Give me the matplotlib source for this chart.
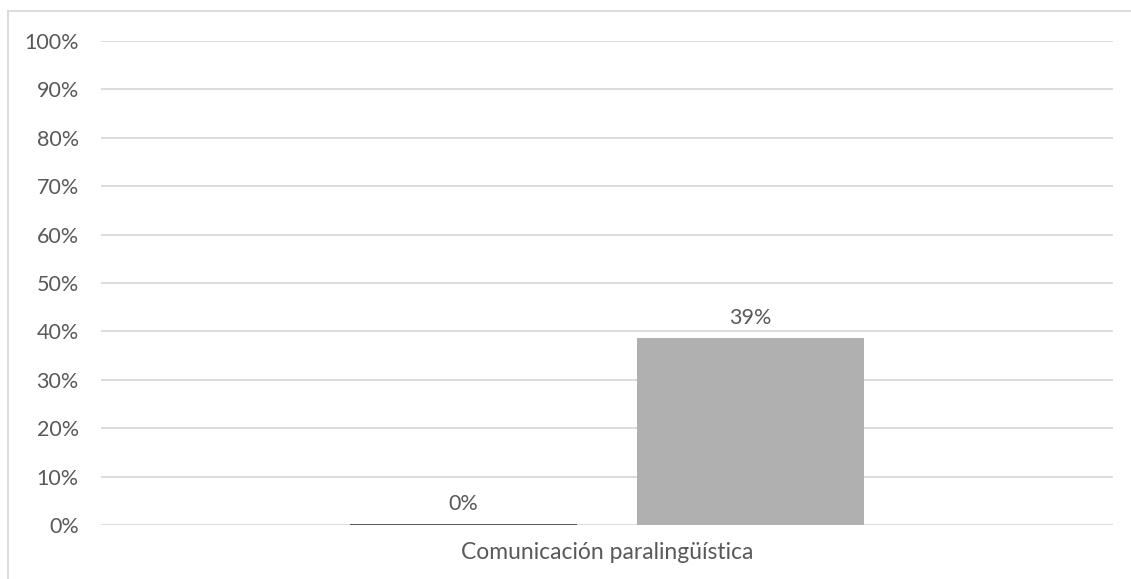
import matplotlib.pyplot as plt
from matplotlib.lines import Line2D

categories = ["Comunicación paralingüística"]
series_a = [0.003]
series_b = [0.386]
yticks = [i / 10 for i in range(11)]

plt.rcParams["font.family"] = ["Lato", "DejaVu Sans"]
text_color = "#595959"
fs = 15.5

fig = plt.figure(figsize=(11.31, 5.79), dpi=100)
ax = fig.add_axes([0.0893, 0.0933, 0.8948, 0.8359])

width = 0.224
offset = 0.142
x = [0]
bars_a = ax.bar([v - offset for v in x], series_a, width, color="#595959", zorder=3)
bars_b = ax.bar([v + offset for v in x], series_b, width, color="#b0b0b0", zorder=3)

for bars, vals in ((bars_a, series_a), (bars_b, series_b)):
    for b, v in zip(bars, vals):
        ax.annotate(f"{v * 100:.0f}%", (b.get_x() + b.get_width() / 2, v),
                    xytext=(0, 7), textcoords="offset points",
                    ha="center", va="bottom", fontsize=fs, color=text_color)

ax.set_xlim(-0.5, 0.5)
ax.set_ylim(0, 1)
ax.set_yticks(yticks)
ax.set_yticklabels([f"{t * 100:.0f}%" for t in yticks])
ax.set_xticks(x)
ax.set_xticklabels(categories, fontsize=16.5)
ax.tick_params(axis="both", length=0, colors=text_color)
ax.tick_params(axis="y", pad=16, labelsize=fs)
ax.tick_params(axis="x", pad=12)
ax.grid(axis="y", color="#d9d9d9", linewidth=1.3, zorder=0)
for s in ax.spines.values():
    s.set_visible(False)

# chart-area frame (left and top edges)
fig.add_artist(Line2D([8 / 1131, 8 / 1131], [0, 1 - 11 / 579], color="#d9d9d9", lw=1.3))
fig.add_artist(Line2D([8 / 1131, 1], [1 - 11 / 579, 1 - 11 / 579], color="#d9d9d9", lw=1.3))

fig.savefig("out.png", dpi=100)
